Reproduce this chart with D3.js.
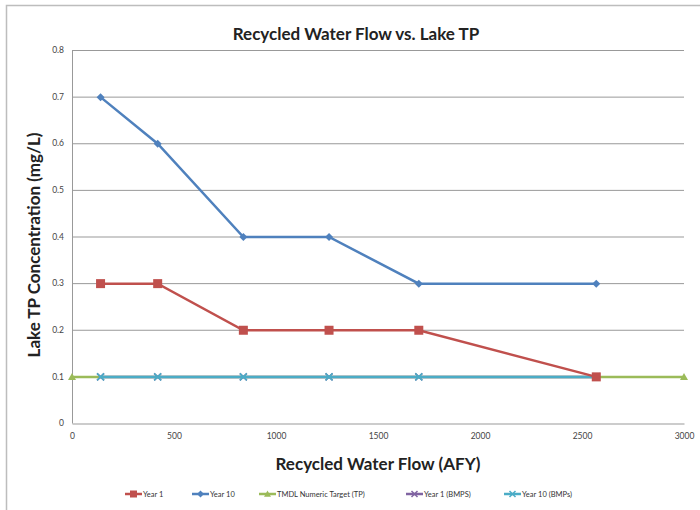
<!DOCTYPE html>
<html>
<head>
<meta charset="utf-8">
<script src="https://cdn.jsdelivr.net/npm/d3@7"></script>
<style>
  body { margin: 0; background: #fff; }
  svg { display: block; font-family: Lato, "Open Sans", sans-serif; }
</style>
</head>
<body>
<svg id="chart" width="700" height="510"></svg>
<script>
// Recycled water flow (AFY) at each modelled scenario
const flows = [140, 420, 840, 1260, 1700, 2570];
// Lake TP concentration (mg/L)
const year1 = [0.3, 0.3, 0.2, 0.2, 0.2, 0.1];
const year10 = [0.7, 0.6, 0.4, 0.4, 0.3, 0.3];
const targetFlows = [0, 3000];
const targetTP = [0.1, 0.1];
const year1BMPs = [0.1, 0.1, 0.1, 0.1, 0.1, 0.1];
const year10BMPs = [0.1, 0.1, 0.1, 0.1, 0.1, 0.1];
const xTicks = [0, 500, 1000, 1500, 2000, 2500, 3000];
const yTicks = [0, 0.1, 0.2, 0.3, 0.4, 0.5, 0.6, 0.7, 0.8];

const series = [
  { name: "Year 1", xs: flows, ys: year1, color: "#c0504d", marker: "square" },
  { name: "Year 10", xs: flows, ys: year10, color: "#4f81bd", marker: "diamond" },
  { name: "TMDL Numeric Target (TP)", xs: targetFlows, ys: targetTP, color: "#9bbb59", marker: "triangle" },
  { name: "Year 1 (BMPS)", xs: flows, ys: year1BMPs, color: "#8064a2", marker: "x" },
  { name: "Year 10 (BMPs)", xs: flows, ys: year10BMPs, color: "#4bacc6", marker: "x" }
];

const svg = d3.select("#chart");
const plotLeft = 72, plotRight = 684, plotTop = 50, plotBottom = 423;

const x = d3.scaleLinear().domain([0, 3000]).range([plotLeft, plotRight]);
const y = d3.scaleLinear().domain([0, 0.8]).range([plotBottom, plotTop]);

// outer chart frame
svg.append("rect").attr("x", 6.5).attr("y", 5.5).attr("width", 720).attr("height", 540)
  .attr("fill", "#fff").attr("stroke", "#bdbdbd").attr("stroke-width", 1.5);

svg.append("text").attr("x", 356).attr("y", 40).attr("text-anchor", "middle")
  .attr("font-size", 17).attr("font-weight", "bold").attr("fill", "#222")
  .text("Recycled Water Flow vs. Lake TP");

// horizontal gridlines
svg.append("g").selectAll("line").data(yTicks.filter(d => d > 0)).join("line")
  .attr("x1", plotLeft).attr("x2", plotRight)
  .attr("y1", d => y(d) + 0.5).attr("y2", d => y(d) + 0.5)
  .attr("stroke", "#999").attr("stroke-width", 1);

// y axis
const yAxis = svg.append("g").attr("transform", `translate(${plotLeft},0)`)
  .call(d3.axisLeft(y).tickValues(yTicks).tickFormat(d3.format("")).tickSize(0).tickPadding(8));
yAxis.select(".domain").attr("stroke", "#999");
yAxis.selectAll("text").attr("font-size", 8.5).attr("fill", "#444").attr("font-family", "Lato, sans-serif");

// x axis
const xAxis = svg.append("g").attr("transform", `translate(0,${plotBottom + 0.5})`)
  .call(d3.axisBottom(x).tickValues(xTicks).tickFormat(d3.format("")).tickSize(0).tickPadding(9));
xAxis.select(".domain").attr("stroke", "#999");
xAxis.selectAll("text").attr("font-size", 8.5).attr("fill", "#444").attr("font-family", "Lato, sans-serif");

svg.append("text").attr("x", 378).attr("y", 470).attr("text-anchor", "middle")
  .attr("font-size", 17).attr("font-weight", "bold").attr("fill", "#222")
  .text("Recycled Water Flow (AFY)");

svg.append("text").attr("transform", "translate(40,245) rotate(-90)").attr("text-anchor", "middle")
  .attr("font-size", 17).attr("font-weight", "bold").attr("fill", "#222")
  .text("Lake TP Concentration (mg/L)");

function drawMarker(g, type, cx, cy, color, s) {
  if (type === "square") {
    g.append("rect").attr("x", cx - s).attr("y", cy - s).attr("width", 2 * s).attr("height", 2 * s).attr("fill", color);
  } else if (type === "diamond") {
    g.append("path").attr("d", `M${cx},${cy - s}L${cx + s},${cy}L${cx},${cy + s}L${cx - s},${cy}Z`).attr("fill", color);
  } else if (type === "triangle") {
    g.append("path").attr("d", `M${cx},${cy - s}L${cx + s},${cy + s * 0.8}L${cx - s},${cy + s * 0.8}Z`).attr("fill", color);
  } else {
    g.append("path").attr("d", `M${cx - s},${cy - s}L${cx + s},${cy + s}M${cx - s},${cy + s}L${cx + s},${cy - s}`)
      .attr("stroke", color).attr("stroke-width", 1.5).attr("fill", "none");
  }
}

const sizes = { square: 4.5, diamond: 4, triangle: 4, x: 3.5 };
const line = d3.line();
const plot = svg.append("g");
// later series are drawn first so Year 1 and Year 10 sit on top
const order = [2, 3, 4, 1, 0];
order.forEach(i => {
  const s = series[i];
  const pts = s.xs.map((v, k) => [x(v), y(s.ys[k]) + 0.5]);
  const g = plot.append("g");
  g.append("path").attr("d", line(pts)).attr("fill", "none").attr("stroke", s.color).attr("stroke-width", 2.5);
  pts.forEach(p => drawMarker(g, s.marker, p[0], p[1], s.color, sizes[s.marker]));
});

// legend
const legend = svg.append("g").attr("transform", "translate(0,494)");
const legendX = [125, 192, 259, 406, 504];
series.forEach((s, i) => {
  const g = legend.append("g").attr("transform", `translate(${legendX[i]},0)`);
  g.append("line").attr("x1", 0).attr("x2", 17).attr("y1", 0).attr("y2", 0)
    .attr("stroke", s.color).attr("stroke-width", 2.5);
  drawMarker(g, s.marker, 8.5, 0, s.color, s.marker === "x" ? 3 : 3.5);
  g.append("text").attr("x", 18).attr("y", 2.8).attr("font-size", 7.5).attr("fill", "#333").text(s.name);
});
</script>
</body>
</html>
